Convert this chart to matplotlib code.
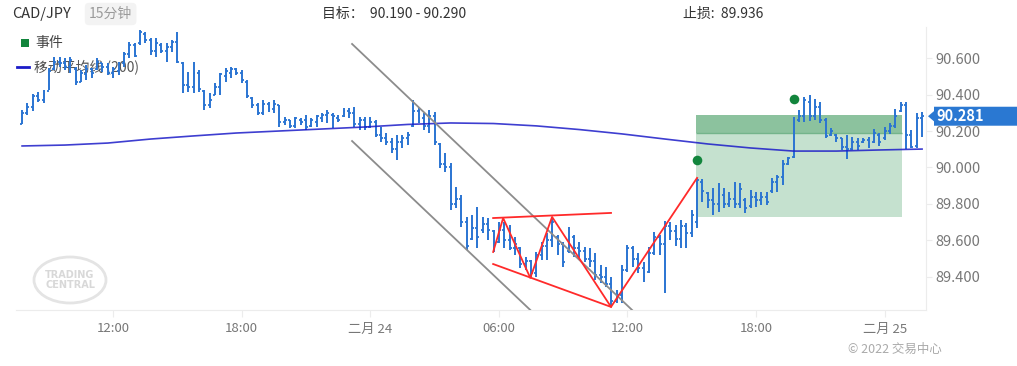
import pandas as pd
import matplotlib
matplotlib.use("Agg")
import matplotlib.pyplot as plt
import matplotlib.dates as mdates
from matplotlib.patches import Rectangle, Ellipse, Polygon
from matplotlib.lines import Line2D
from matplotlib import transforms

plt.rcParams['font.family'] = ['Noto Sans CJK SC', 'DejaVu Sans']

# CAD/JPY 15 minute bars, 2022-02-23 07:45 .. 2022-02-25 01:45
opens = [90.24, 90.30, 90.33, 90.39, 90.37, 90.42, 90.54, 90.58, 90.57, 90.55,
         90.54, 90.47, 90.51, 90.54, 90.54, 90.57, 90.55, 90.52, 90.53, 90.57,
         90.62, 90.67, 90.68, 90.73, 90.70, 90.64, 90.67, 90.64, 90.66, 90.69,
         90.57, 90.45, 90.44, 90.52, 90.42, 90.34, 90.40, 90.44, 90.50, 90.52,
         90.54, 90.52, 90.47, 90.38, 90.34, 90.30, 90.35, 90.32, 90.34, 90.25,
         90.26, 90.23, 90.26, 90.26, 90.23, 90.25, 90.27, 90.29, 90.29, 90.27,
         90.28, 90.31, 90.30, 90.24, 90.26, 90.22, 90.25, 90.18, 90.16, 90.14,
         90.10, 90.14, 90.16, 90.23, 90.31, 90.27, 90.23, 90.28, 90.13, 90.02,
         90.00, 89.80, 89.83, 89.70, 89.61, 89.67, 89.66, 89.69, 89.65, 89.59,
         89.66, 89.60, 89.56, 89.56, 89.47, 89.49, 89.42, 89.52, 89.57, 89.60,
         89.62, 89.58, 89.54, 89.62, 89.56, 89.54, 89.50, 89.49, 89.41, 89.40,
         89.36, 89.27, 89.30, 89.44, 89.56, 89.50, 89.45, 89.43, 89.53, 89.62,
         89.58, 89.68, 89.65, 89.61, 89.68, 89.64, 89.70, 89.92, 89.86, 89.82,
         89.80, 89.85, 89.80, 89.83, 89.80, 89.82, 89.79, 89.84, 89.82, 89.84,
         89.87, 89.92, 89.95, 90.02, 90.06, 90.26, 90.28, 90.36, 90.28, 90.33,
         90.26, 90.18, 90.18, 90.16, 90.11, 90.10, 90.14, 90.14, 90.15, 90.14,
         90.18, 90.16, 90.20, 90.23, 90.31, 90.34, 90.18, 90.12, 90.27]
highs = [90.315, 90.354, 90.403, 90.414, 90.425, 90.545, 90.606, 90.606, 90.600, 90.606,
         90.551, 90.534, 90.562, 90.545, 90.600, 90.573, 90.573, 90.551, 90.578, 90.633,
         90.688, 90.682, 90.754, 90.743, 90.710, 90.710, 90.682, 90.682, 90.699, 90.743,
         90.578, 90.523, 90.578, 90.534, 90.425, 90.408, 90.463, 90.518, 90.545, 90.551,
         90.545, 90.534, 90.480, 90.386, 90.354, 90.370, 90.359, 90.370, 90.343, 90.277,
         90.260, 90.277, 90.271, 90.288, 90.271, 90.288, 90.299, 90.315, 90.299, 90.288,
         90.326, 90.326, 90.332, 90.277, 90.277, 90.277, 90.260, 90.222, 90.189, 90.162,
         90.178, 90.178, 90.195, 90.370, 90.326, 90.299, 90.315, 90.304, 90.134, 90.080,
         90.025, 89.893, 89.849, 89.729, 89.740, 89.784, 89.729, 89.723, 89.658, 89.701,
         89.701, 89.685, 89.619, 89.565, 89.510, 89.493, 89.537, 89.592, 89.641, 89.729,
         89.630, 89.592, 89.674, 89.630, 89.592, 89.565, 89.559, 89.532, 89.466, 89.455,
         89.400, 89.329, 89.466, 89.576, 89.570, 89.532, 89.482, 89.565, 89.647, 89.630,
         89.707, 89.701, 89.685, 89.712, 89.696, 89.767, 89.943, 89.937, 89.866, 89.888,
         89.915, 89.888, 89.866, 89.921, 89.915, 89.833, 89.877, 89.866, 89.866, 89.866,
         89.943, 89.959, 90.041, 90.058, 90.277, 90.315, 90.386, 90.397, 90.375, 90.359,
         90.271, 90.217, 90.184, 90.162, 90.178, 90.167, 90.162, 90.162, 90.167, 90.211,
         90.189, 90.222, 90.244, 90.321, 90.359, 90.359, 90.206, 90.299, 90.304]
lows = [90.238, 90.288, 90.310, 90.359, 90.354, 90.425, 90.534, 90.551, 90.534, 90.518,
        90.452, 90.469, 90.480, 90.491, 90.534, 90.523, 90.507, 90.491, 90.507, 90.551,
        90.600, 90.606, 90.671, 90.682, 90.617, 90.606, 90.628, 90.578, 90.633, 90.573,
        90.408, 90.414, 90.408, 90.414, 90.315, 90.326, 90.397, 90.397, 90.469, 90.491,
        90.507, 90.463, 90.381, 90.326, 90.288, 90.288, 90.304, 90.299, 90.222, 90.233,
        90.217, 90.217, 90.233, 90.206, 90.222, 90.222, 90.249, 90.244, 90.217, 90.249,
        90.277, 90.271, 90.222, 90.206, 90.206, 90.217, 90.167, 90.140, 90.123, 90.080,
        90.041, 90.107, 90.123, 90.222, 90.244, 90.206, 90.189, 90.123, 89.997, 89.975,
        89.767, 89.778, 89.674, 89.548, 89.603, 89.559, 89.641, 89.603, 89.537, 89.586,
        89.559, 89.548, 89.521, 89.449, 89.438, 89.400, 89.400, 89.493, 89.493, 89.565,
        89.521, 89.455, 89.532, 89.510, 89.493, 89.482, 89.455, 89.384, 89.367, 89.345,
        89.247, 89.258, 89.258, 89.428, 89.455, 89.422, 89.373, 89.422, 89.521, 89.521,
        89.312, 89.603, 89.570, 89.559, 89.559, 89.619, 89.669, 89.811, 89.778, 89.740,
        89.756, 89.778, 89.784, 89.778, 89.778, 89.751, 89.778, 89.784, 89.795, 89.795,
        89.860, 89.866, 89.904, 90.014, 90.052, 90.249, 90.249, 90.255, 90.260, 90.244,
        90.162, 90.173, 90.140, 90.096, 90.047, 90.096, 90.096, 90.134, 90.107, 90.134,
        90.118, 90.151, 90.184, 90.217, 90.304, 90.101, 90.107, 90.107, 90.167]
closes = [90.30, 90.33, 90.39, 90.37, 90.42, 90.53, 90.58, 90.57, 90.55, 90.59,
          90.47, 90.52, 90.54, 90.52, 90.58, 90.55, 90.52, 90.54, 90.57, 90.62,
          90.67, 90.61, 90.74, 90.70, 90.64, 90.68, 90.64, 90.66, 90.69, 90.58,
          90.45, 90.44, 90.52, 90.43, 90.34, 90.37, 90.44, 90.51, 90.53, 90.54,
          90.52, 90.48, 90.39, 90.34, 90.30, 90.35, 90.32, 90.35, 90.25, 90.26,
          90.23, 90.27, 90.25, 90.22, 90.26, 90.28, 90.29, 90.30, 90.28, 90.26,
          90.31, 90.30, 90.24, 90.26, 90.22, 90.25, 90.18, 90.16, 90.14, 90.10,
          90.14, 90.16, 90.18, 90.31, 90.27, 90.23, 90.28, 90.14, 90.02, 90.00,
          89.80, 89.83, 89.70, 89.57, 89.67, 89.62, 89.69, 89.66, 89.56, 89.66,
          89.60, 89.56, 89.58, 89.47, 89.49, 89.42, 89.52, 89.57, 89.60, 89.70,
          89.58, 89.48, 89.62, 89.56, 89.54, 89.50, 89.49, 89.41, 89.40, 89.36,
          89.27, 89.30, 89.44, 89.56, 89.50, 89.45, 89.40, 89.53, 89.62, 89.58,
          89.68, 89.65, 89.61, 89.68, 89.64, 89.74, 89.93, 89.87, 89.82, 89.80,
          89.85, 89.80, 89.83, 89.80, 89.88, 89.78, 89.84, 89.82, 89.84, 89.81,
          89.92, 89.95, 90.02, 90.05, 90.25, 90.28, 90.37, 90.28, 90.33, 90.26,
          90.17, 90.20, 90.16, 90.11, 90.10, 90.14, 90.12, 90.15, 90.12, 90.19,
          90.14, 90.20, 90.23, 90.28, 90.34, 90.18, 90.11, 90.27, 90.281]

# 200-period moving average, read every 2 hours
ma_values = [90.118, 90.123, 90.134, 90.156, 90.173, 90.189, 90.200, 90.211,
             90.222, 90.236, 90.244, 90.241, 90.228, 90.208, 90.184, 90.156,
             90.129, 90.107, 90.090, 90.090, 90.096, 90.101]

# drawings
channel_upper = [("2022-02-23 23:09", 90.677), ("2022-02-24 12:13", 89.219)]
channel_lower = [("2022-02-23 23:09", 90.145), ("2022-02-24 07:28", 89.219)]
pattern_top = [("2022-02-24 05:44", 89.723), ("2022-02-24 11:14", 89.751)]
pattern_bottom = [("2022-02-24 05:44", 89.471), ("2022-02-24 11:14", 89.236)]
zigzag = [("2022-02-24 05:44", 89.537), ("2022-02-24 06:12", 89.723),
          ("2022-02-24 07:28", 89.395), ("2022-02-24 08:29", 89.729),
          ("2022-02-24 11:14", 89.236), ("2022-02-24 15:15", 89.943)]
events = [("2022-02-24 15:15", 90.041), ("2022-02-24 19:45", 90.375)]
zone_start, zone_end = "2022-02-24 15:12", "2022-02-25 00:48"
target_lo, target_hi = 90.190, 90.290
zone_bottom = 89.73
last_price = 90.281

tick_times = ["2022-02-23 12:00", "2022-02-23 18:00", "2022-02-24 00:00",
              "2022-02-24 06:00", "2022-02-24 12:00", "2022-02-24 18:00",
              "2022-02-25 00:00"]
tick_labels = ["12:00", "18:00", "二月 24", "06:00", "12:00", "18:00", "二月 25"]
y_ticks = [89.4, 89.6, 89.8, 90.0, 90.2, 90.4, 90.6]


def dn(s):
    return mdates.date2num(pd.Timestamp(s))


times = pd.date_range("2022-02-23 07:45", periods=len(highs), freq="15min")
t = mdates.date2num(times)
ma_t = t[::8]

W, H = 1017, 366
fig = plt.figure(figsize=(W / 100, H / 100), dpi=100)
ax = fig.add_axes([16 / W, 1 - 310 / H, (926 - 16) / W, (310 - 27) / H])
ax.set_facecolor("none")

bar_col = "#2a74d2"
w = 5.5 / 1440
ax.vlines(t, lows, highs, color=bar_col, lw=1.4, zorder=3)
ax.hlines(opens, t - w, t, color=bar_col, lw=1.3, zorder=3)
ax.hlines(closes, t, t + w, color=bar_col, lw=1.3, zorder=3)

# target / entry zone
z0, z1 = dn(zone_start), dn(zone_end)
ax.add_patch(Rectangle((z0, zone_bottom), z1 - z0, target_lo - zone_bottom,
                       fc="#c5e1cf", ec="none", zorder=1))
ax.add_patch(Rectangle((z0, target_lo), z1 - z0, target_hi - target_lo,
                       fc="#8cc29e", ec="none", zorder=1))
ax.hlines(target_lo, z0, z1, color="#74b48b", lw=1, zorder=1)

ax.plot(ma_t, ma_values, color="#1c1cc8", lw=1.2, alpha=0.85, zorder=4)

for seg, col in [(channel_upper, "#8c8c8c"), (channel_lower, "#8c8c8c"),
                 (pattern_top, "#ff2a2a"), (pattern_bottom, "#ff2a2a"),
                 (zigzag, "#ff2a2a")]:
    ax.plot([dn(a) for a, b in seg], [b for a, b in seg], color=col, lw=1.3, zorder=5)

ax.scatter([dn(a) for a, b in events], [b for a, b in events], s=48,
           color="#12853c", zorder=6, linewidths=0)

ax.set_xlim(dn("2022-02-23 07:28"), dn("2022-02-25 01:56"))
ax.set_ylim(89.219, 90.770)

ax.set_xticks([dn(s) for s in tick_times])
ax.set_xticklabels(tick_labels)
ax.set_yticks(y_ticks)
ax.set_yticklabels(["%.3f" % v for v in y_ticks])
ax.yaxis.tick_right()
ax.tick_params(axis="x", colors="#ececec", labelcolor="#777777", labelsize=9.5,
               length=5, pad=4)
ax.tick_params(axis="y", colors="#ececec", labelcolor="#777777", labelsize=10.5,
               length=4, pad=3)
for side in ["left", "top"]:
    ax.spines[side].set_visible(False)
for side in ["right", "bottom"]:
    ax.spines[side].set_color("#ececec")

# last price label
blend = transforms.blended_transform_factory(fig.transFigure, ax.transData)
hh, ah = 0.052, 0.028
fig.add_artist(Polygon([(928 / W, last_price), (934 / W, last_price + ah),
                        (934 / W, last_price + hh), (1.0, last_price + hh),
                        (1.0, last_price - hh), (934 / W, last_price - hh),
                        (934 / W, last_price - ah)],
                       closed=True, transform=blend, fc="#2a78d2", ec="none"))
fig.text(936 / W, last_price, "%.3f" % last_price, transform=blend, color="white",
         fontsize=10.5, fontweight="bold", va="center")

# header
fig.text(12 / W, 1 - 14 / H, "CAD/JPY", fontsize=10.5, color="#333333", va="center")
fig.text(89 / W, 1 - 14 / H, "15分钟", fontsize=10, color="#9a9a9a", va="center",
         bbox=dict(boxstyle="round,pad=0.3", fc="#f3f3f3", ec="none"))
fig.text(322 / W, 1 - 14 / H, "目标：  90.190 - 90.290", fontsize=10, color="#333333",
         va="center")
fig.text(683 / W, 1 - 14 / H, "止损:  89.936", fontsize=10, color="#333333",
         va="center")

# legend
fig.add_artist(Rectangle((21 / W, 1 - 47 / H), 8 / W, 8 / H, fc="#12853c", ec="none",
                         zorder=-1))
fig.text(35 / W, 1 - 43 / H, "事件", fontsize=10, color="#444444", va="center",
         zorder=-1)
fig.add_artist(Line2D([17 / W, 29 / W], [1 - 67 / H, 1 - 67 / H], color="#1c1cc8",
                      lw=2, zorder=-1))
fig.text(34 / W, 1 - 67 / H, "移动平均线 (200)", fontsize=10, color="#555555",
         va="center", zorder=-1)

# watermark
fig.add_artist(Ellipse((70 / W, 1 - 280 / H), 72 / W, 46 / H, fill=False,
                       ec="#e4e4e4", lw=2.0, zorder=-1))
fig.text(70 / W, 1 - 280 / H, "TRADING\nCENTRAL", fontsize=7, color="#d8d8d8",
         fontweight="bold", ha="center", va="center", linespacing=0.9,
         family="DejaVu Sans", zorder=-1)

fig.text(848 / W, 1 - 349 / H, "© 2022 交易中心", fontsize=9, color="#aaaaaa",
         va="center")

fig.savefig("out.png", dpi=100)
